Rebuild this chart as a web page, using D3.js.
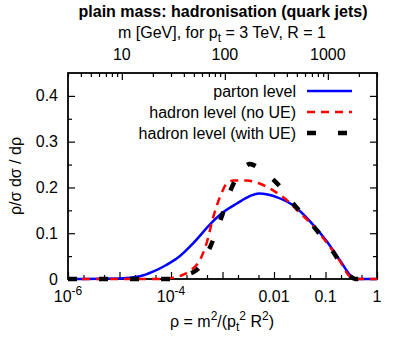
<!DOCTYPE html>
<html>
<head>
<meta charset="utf-8">
<script src="https://cdn.jsdelivr.net/npm/d3@7/dist/d3.min.js"></script>
<style>
  body { margin: 0; background: #fff; }
  text { font-family: "Liberation Sans", Arial, Helvetica, sans-serif; font-size: 16px; fill: #000; }
</style>
</head>
<body>
<div id="chart"></div>
<script>
// log10(rho) positions and rho/sigma dsigma/drho values
var partonLogRho = [-6, -5, -4.6, -4.35, -4.1, -3.85, -3.57, -3.21, -3.02, -2.72, -2.45, -2.3, -2.1, -1.95, -1.63, -1.3, -0.98, -0.72, -0.49, -0.4, 0];
var partonVal    = [0, 0.001, 0.006, 0.016, 0.03, 0.048, 0.078, 0.123, 0.143, 0.165, 0.182, 0.187, 0.184, 0.179, 0.161, 0.126, 0.083, 0.041, 0.005, 0, 0];

var noUELogRho = [-6, -4.2, -3.95, -3.75, -3.63, -3.44, -3.31, -3.18, -3.05, -2.92, -2.79, -2.53, -2.27, -2.01, -1.75, -1.5, -1.24, -0.98, -0.72, -0.55, -0.42, 0];
var noUEVal    = [0, 0, 0.003, 0.01, 0.018, 0.041, 0.078, 0.135, 0.179, 0.208, 0.215, 0.215, 0.208, 0.193, 0.172, 0.145, 0.116, 0.08, 0.039, 0.008, 0, 0];

var withUELogRho = [-6, -4.0, -3.75, -3.5, -3.24, -3.02, -2.82, -2.63, -2.47, -2.3, -2.1, -1.95, -1.63, -1.24, -0.85, -0.55, -0.42, 0];
var withUEVal    = [0, 0, 0.008, 0.02, 0.07, 0.135, 0.2, 0.237, 0.251, 0.243, 0.225, 0.21, 0.165, 0.116, 0.059, 0.008, 0, 0];

var xTickExp = [-6, -4, -2, -1, 0];
var xTickText = {"-6": ["10", "-6"], "-4": ["10", "-4"], "-2": ["0.01"], "-1": ["0.1"], "0": ["1"]};
var mTicks = [10, 100, 1000];
var yTicks = [0, 0.1, 0.2, 0.3, 0.4];

var series = [
  {name: "parton level", lx: partonLogRho, v: partonVal, color: "#0000ff", width: 2.5, dash: null},
  {name: "hadron level (no UE)", lx: noUELogRho, v: noUEVal, color: "#ff0000", width: 2.5, dash: "8,6"},
  {name: "hadron level (with UE)", lx: withUELogRho, v: withUEVal, color: "#000000", width: 4.5, dash: "9,22"}
];

var W = 407, H = 350;
var L = 68, R = 377, T = 73, B = 279;

var svg = d3.select("#chart").append("svg").attr("width", W).attr("height", H);

var x = d3.scaleLog().domain([1e-6, 1]).range([L, R]);
var xm = d3.scaleLog().domain([3, 3000]).range([L, R]);
var y = d3.scaleLinear().domain([0, 0.45]).range([B, T]);

// tick values
var xMajor = d3.range(-6, 1).map(function (e) { return Math.pow(10, e); });
var xMinor = [];
d3.range(-6, 0).forEach(function (e) {
  [2, 5].forEach(function (m) { xMinor.push(m * Math.pow(10, e)); });
});
var mMinor = [];
[1, 10, 100, 1000].forEach(function (d) {
  d3.range(2, 10).forEach(function (m) {
    var v = m * d;
    if (v >= 3 && v <= 3000 && mTicks.indexOf(v) < 0) mMinor.push(v);
  });
});
var yMinor = d3.range(0.05, 0.45, 0.1);

function tickAxis(axis, vals, size) {
  return axis.tickValues(vals).tickSizeInner(size).tickSizeOuter(0).tickFormat("");
}
function styleAxis(g) {
  g.select(".domain").remove();
  g.selectAll("line").attr("stroke", "#000").attr("stroke-width", 1.2);
}

svg.append("g").attr("transform", "translate(0," + B + ")").call(tickAxis(d3.axisBottom(x), xMajor, -7)).call(styleAxis);
svg.append("g").attr("transform", "translate(0," + B + ")").call(tickAxis(d3.axisBottom(x), xMinor, -4)).call(styleAxis);
svg.append("g").attr("transform", "translate(0," + T + ")").call(tickAxis(d3.axisTop(xm), mTicks, -7)).call(styleAxis);
svg.append("g").attr("transform", "translate(0," + T + ")").call(tickAxis(d3.axisTop(xm), mMinor, -4)).call(styleAxis);
svg.append("g").attr("transform", "translate(" + L + ",0)").call(tickAxis(d3.axisLeft(y), yTicks, -7)).call(styleAxis);
svg.append("g").attr("transform", "translate(" + L + ",0)").call(tickAxis(d3.axisLeft(y), yMinor, -4)).call(styleAxis);
svg.append("g").attr("transform", "translate(" + R + ",0)").call(tickAxis(d3.axisRight(y), yTicks, -7)).call(styleAxis);
svg.append("g").attr("transform", "translate(" + R + ",0)").call(tickAxis(d3.axisRight(y), yMinor, -4)).call(styleAxis);

// curves (clip lets the thick zero-line dashes spill over the frame)
svg.append("clipPath").attr("id", "clip").append("rect")
  .attr("x", L).attr("y", T).attr("width", R - L).attr("height", B - T + 4);

var line = d3.line()
  .x(function (d) { return x(Math.pow(10, d[0])); })
  .y(function (d) { return y(d[1]); })
  .curve(d3.curveMonotoneX);

// frame
svg.append("rect").attr("x", L).attr("y", T).attr("width", R - L).attr("height", B - T)
  .attr("fill", "none").attr("stroke", "#000").attr("stroke-width", 1.8);

series.forEach(function (s) {
  var pts = s.lx.map(function (lx, i) { return [lx, s.v[i]]; });
  svg.append("path")
    .attr("clip-path", "url(#clip)")
    .attr("d", line(pts))
    .attr("fill", "none")
    .attr("stroke", s.color)
    .attr("stroke-width", s.width)
    .attr("stroke-dasharray", s.dash);
});

// tick labels
xTickExp.forEach(function (e) {
  var parts = xTickText[String(e)];
  var t = svg.append("text").attr("x", x(Math.pow(10, e))).attr("y", 302).attr("text-anchor", "middle");
  t.append("tspan").text(parts[0]);
  if (parts[1]) t.append("tspan").attr("dy", -7).style("font-size", "12px").text(parts[1]);
});
mTicks.forEach(function (m) {
  svg.append("text").attr("x", xm(m)).attr("y", 60).attr("text-anchor", "middle").text(m);
});
yTicks.forEach(function (v) {
  svg.append("text").attr("x", 58).attr("y", y(v) + 5.5).attr("text-anchor", "end").text(v === 0 ? "0" : d3.format(".1f")(v));
});

// titles
svg.append("text").attr("x", 223).attr("y", 17).attr("text-anchor", "middle")
  .style("font-weight", "bold").text("plain mass: hadronisation (quark jets)");

var sub = svg.append("text").attr("x", 222).attr("y", 38).attr("text-anchor", "middle");
sub.append("tspan").text("m [GeV], for p");
sub.append("tspan").attr("dy", 4).style("font-size", "12px").text("t");
sub.append("tspan").attr("dy", -4).text(" = 3 TeV, R = 1");

var xl = svg.append("text").attr("x", 222).attr("y", 327).attr("text-anchor", "middle");
xl.append("tspan").text("ρ = m");
xl.append("tspan").attr("dy", -7).style("font-size", "12px").text("2");
xl.append("tspan").attr("dy", 7).text("/(p");
xl.append("tspan").attr("dy", 4).style("font-size", "12px").text("t");
xl.append("tspan").attr("dy", -11).style("font-size", "12px").text("2");
xl.append("tspan").attr("dy", 7).text(" R");
xl.append("tspan").attr("dy", -7).style("font-size", "12px").text("2");
xl.append("tspan").attr("dy", 7).text(")");

svg.append("text").attr("transform", "translate(21,176) rotate(-90)").attr("text-anchor", "middle")
  .text("ρ/σ dσ / dρ");

// legend
series.forEach(function (s, i) {
  var ly = 91 + i * 21;
  svg.append("text").attr("x", 296).attr("y", ly + 5.5).attr("text-anchor", "end").text(s.name);
  svg.append("line").attr("x1", 307).attr("x2", 352).attr("y1", ly).attr("y2", ly)
    .attr("stroke", s.color).attr("stroke-width", s.width).attr("stroke-dasharray", s.dash);
});
</script>
</body>
</html>
